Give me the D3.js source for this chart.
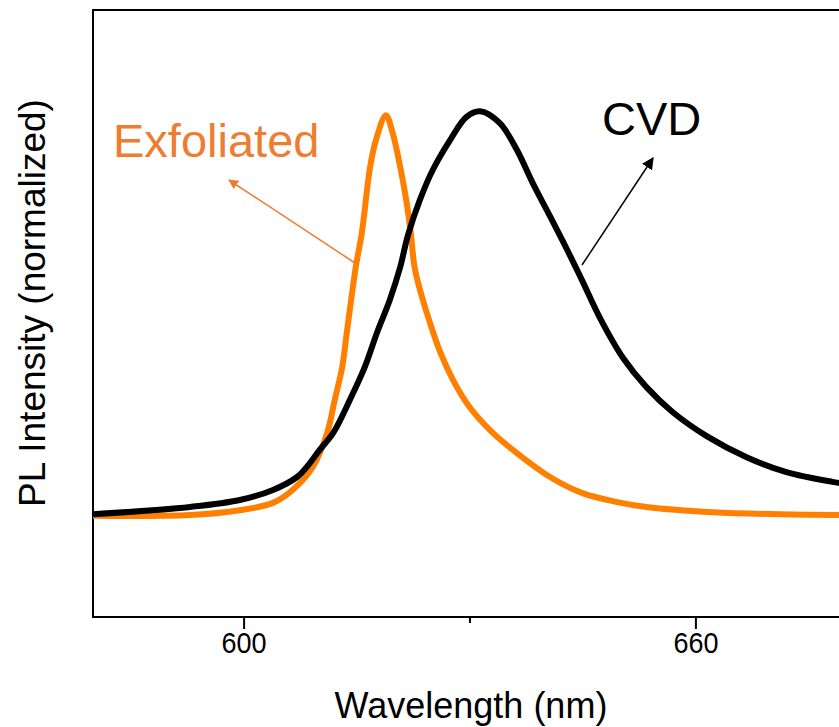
<!DOCTYPE html>
<html><head><meta charset="utf-8">
<script src="https://cdn.jsdelivr.net/npm/d3@7"></script>
<style>body{margin:0;background:#fff;} svg{display:block;} text{font-family:"Liberation Sans",Arial,sans-serif;}</style>
</head><body><svg id="c" width="839" height="727"></svg>
<script>
// Wavelength (nm) and normalized PL intensity
const exfoliatedWavelength = [580,592.9,599.5,603.9,606.5,609.2,611.1,612.1,613.1,613.7,614.9,615.7,616.8,617.6,618.9,619.8,620.8,621.6,622.2,622.7,623.4,624.7,626.1,627.8,630.0,633.1,636.3,640.7,645.0,649.6,653.5,662.3,671.2,680];
const exfoliatedIntensity  = [0.0,0.002,0.014,0.032,0.064,0.121,0.205,0.286,0.368,0.452,0.615,0.699,0.862,0.93,0.99,0.946,0.862,0.78,0.699,0.615,0.56,0.48,0.405,0.336,0.269,0.205,0.155,0.096,0.056,0.034,0.022,0.009,0.004,0.002];
const cvdWavelength = [580,592.9,599.5,603.9,607.1,608.4,610.1,611.9,614.1,616.1,617.7,619.4,620.8,621.8,623.4,625.1,627.4,629.6,631.4,634.0,636.3,638.4,640.7,642.9,645.0,647.3,650.4,653.5,657.0,661.5,666.8,672.1,678.2,680];
const cvdIntensity  = [0.004,0.022,0.039,0.064,0.096,0.121,0.163,0.205,0.286,0.368,0.452,0.533,0.615,0.692,0.78,0.854,0.928,0.986,1.0,0.971,0.904,0.822,0.74,0.66,0.58,0.49,0.39,0.318,0.256,0.197,0.145,0.108,0.084,0.079];
const majorTicks = [600, 660];
const minorTicks = [630];
const xDomain = [580, 680];
const yDomain = [-0.25, 1.25];

const svg = d3.select("#c");
const x = d3.scaleLinear().domain(xDomain).range([93, 846]);
const y = d3.scaleLinear().domain(yDomain).range([617, 10]);

// frame
svg.append("rect").attr("x",93).attr("y",10).attr("width",846-93).attr("height",607)
  .attr("fill","none").attr("stroke","#000").attr("stroke-width",2);

// x axis
svg.append("g").attr("transform","translate(0,617)")
  .call(d3.axisBottom(x).tickValues(majorTicks).tickSize(12).tickFormat(d3.format("d")))
  .call(g=>g.select(".domain").remove())
  .call(g=>g.selectAll("line").attr("stroke","#000").attr("stroke-width",2))
  .call(g=>g.selectAll("text").attr("font-size",30).attr("fill","#000").attr("transform","scale(0.9,1)")
        .style("font-family","'Liberation Sans',Arial,sans-serif"));
svg.append("g").attr("transform","translate(0,617)")
  .call(d3.axisBottom(x).tickValues(minorTicks).tickSize(6).tickFormat(""))
  .call(g=>g.select(".domain").remove())
  .call(g=>g.selectAll("line").attr("stroke","#000").attr("stroke-width",2));

svg.append("text").attr("x",471).attr("y",718).attr("text-anchor","middle").attr("font-size",36).text("Wavelength (nm)");
svg.append("text").attr("transform","translate(45,303) rotate(-90)").attr("text-anchor","middle").attr("font-size",37).text("PL Intensity (normalized)");

const line = d3.line().x(d=>x(d[0])).y(d=>y(d[1])).curve(d3.curveCatmullRom.alpha(0.5));

svg.append("path").datum(d3.zip(exfoliatedWavelength, exfoliatedIntensity))
  .attr("d",line).attr("fill","none").attr("stroke","#FF8000").attr("stroke-width",6).attr("stroke-linejoin","round");
svg.append("path").datum(d3.zip(cvdWavelength, cvdIntensity))
  .attr("d",line).attr("fill","none").attr("stroke","#000").attr("stroke-width",6).attr("stroke-linejoin","round");

// arrowheads
const defs = svg.append("defs");
defs.append("marker").attr("id","ao").attr("viewBox","0 0 10 10").attr("refX",9).attr("refY",5)
  .attr("markerWidth",10).attr("markerHeight",10).attr("markerUnits","userSpaceOnUse").attr("orient","auto")
  .append("path").attr("d","M0,0 L10,5 L0,10 Z").attr("fill","#ED7D31");
defs.append("marker").attr("id","ab").attr("viewBox","0 0 10 10").attr("refX",9).attr("refY",5)
  .attr("markerWidth",12).attr("markerHeight",12).attr("markerUnits","userSpaceOnUse").attr("orient","auto")
  .append("path").attr("d","M0,0 L10,5 L0,10 Z").attr("fill","#000");

svg.append("line").attr("x1",355).attr("y1",263).attr("x2",229).attr("y2",180)
  .attr("stroke","#ED7D31").attr("stroke-width",1.5).attr("marker-end","url(#ao)");
svg.append("line").attr("x1",582).attr("y1",265).attr("x2",653).attr("y2",158)
  .attr("stroke","#000").attr("stroke-width",1.5).attr("marker-end","url(#ab)");

svg.append("text").attr("x",113).attr("y",157).attr("font-size",47).attr("fill","#ED7D31").text("Exfoliated");
svg.append("text").attr("x",602).attr("y",135).attr("font-size",47).attr("fill","#000").text("CVD");
</script></body></html>
